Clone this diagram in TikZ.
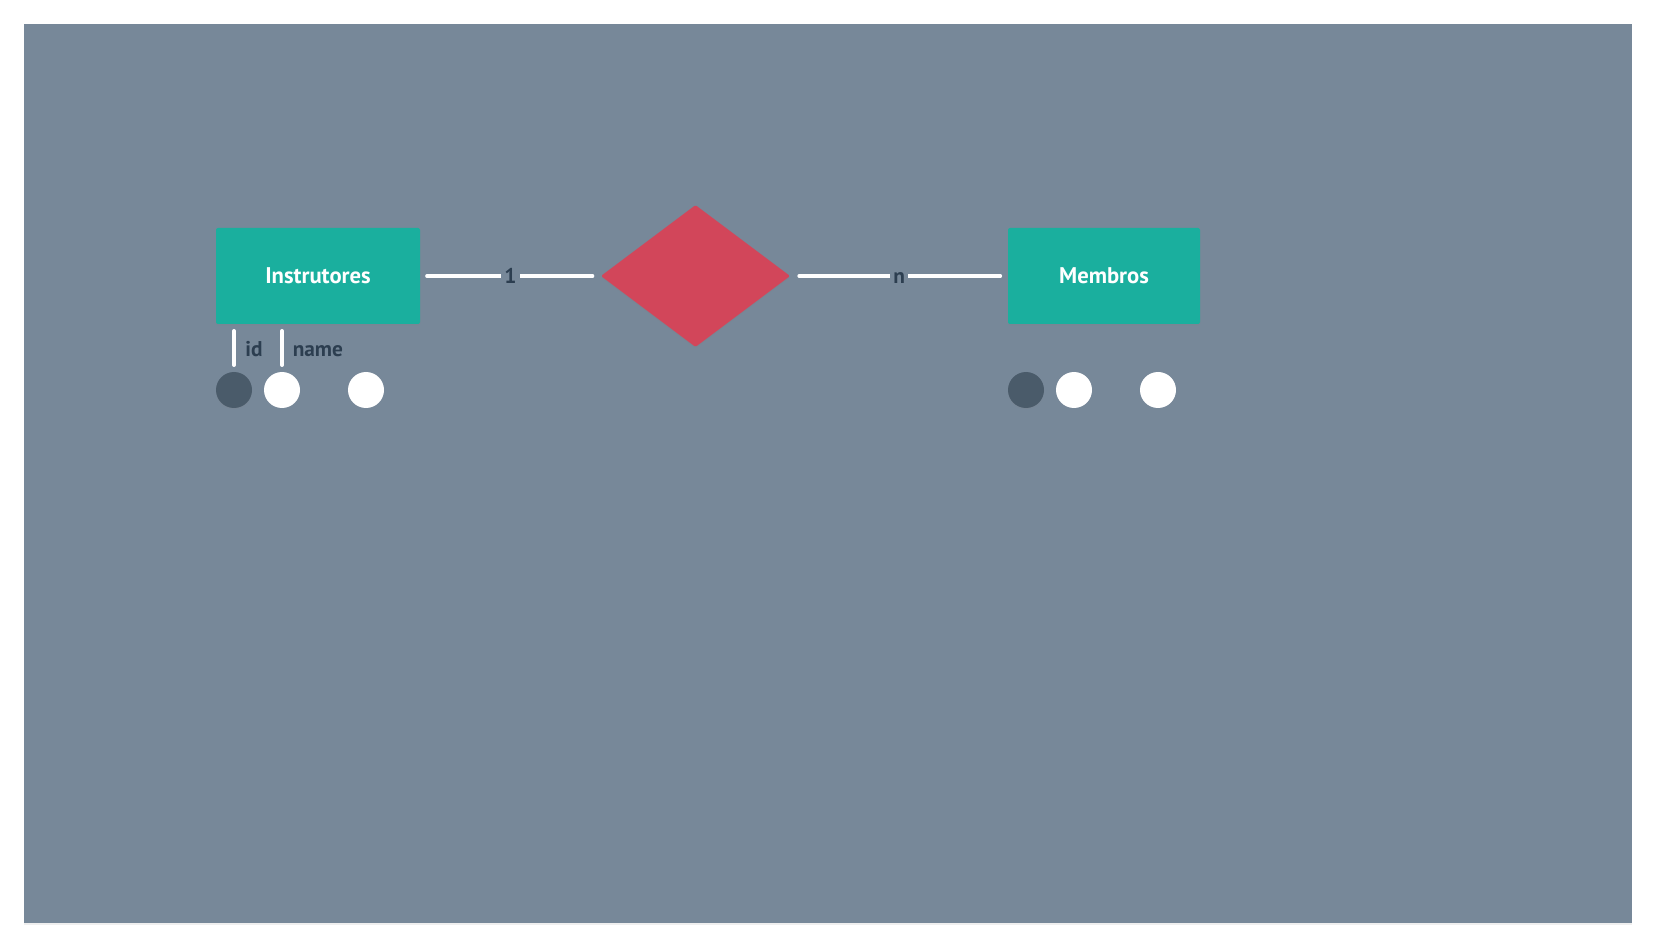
\documentclass[tikz,border=0pt]{standalone}
\usepackage{fontspec}
\setmainfont{PT Sans}
\newfontfamily\dinfont{PT Sans}
\usetikzlibrary{shapes.geometric,shadows}
\definecolor{bggray}{HTML}{778899}
\definecolor{teal}{HTML}{1AAF9E}
\definecolor{rosered}{HTML}{D2465A}
\definecolor{darkdot}{HTML}{4A5B6A}
\definecolor{inktext}{HTML}{2C3E50}
\tikzset{
  entity/.style={draw=none, fill=teal, rounded corners=1.5pt, minimum height=72pt, inner sep=0pt,
    font=\dinfont\bfseries\fontsize{17}{20}\selectfont, text=white,
    drop shadow={opacity=0.18, shadow xshift=0pt, shadow yshift=-1pt}},
  relation/.style={diamond, draw=none, fill=rosered, minimum width=142pt, minimum height=106.5pt, inner sep=0pt, rounded corners=1pt,
    drop shadow={opacity=0.18, shadow xshift=0pt, shadow yshift=-1pt}},
  link/.style={draw=white, line width=2.6pt, line cap=round},
  card/.style={fill=bggray, inner sep=2.5pt, text=inktext, font=\dinfont\bfseries\fontsize{16}{18}\selectfont},
  attrbar/.style={draw=white, line width=3pt, line cap=round},
  attrlabel/.style={anchor=base west, inner sep=0pt, text=inktext, font=\dinfont\bfseries\fontsize{16}{18}\selectfont},
  keydot/.style={circle, fill=darkdot, minimum size=27pt, inner sep=0pt, draw=none,
    drop shadow={opacity=0.15, shadow xshift=0pt, shadow yshift=-0.8pt}},
  plaindot/.style={circle, fill=white, minimum size=27pt, inner sep=0pt, draw=none},
}
\begin{document}
\begin{tikzpicture}[x=0.75pt, y=-0.75pt]
\useasboundingbox (0,0) rectangle (1656,948);
\fill[white] (0,0) rectangle (1656,948);
\node[draw=none, fill=bggray, minimum width=1206pt, minimum height=674.25pt, inner sep=0pt, anchor=north west,
  drop shadow={opacity=0.12, shadow xshift=0pt, shadow yshift=-1.5pt}] (canvas) at (24,24) {};

\node[entity, minimum width=153pt] (instr) at (318,276) {Instrutores};
\node[relation] (rel) at (695.5,276) {};
\node[entity, minimum width=144pt] (memb) at (1104,276) {Membros};

\draw[link, shorten <=5pt, shorten >=6pt] (instr.east) -- node[card] {1} (rel.west);
\draw[link, shorten <=6.5pt, shorten >=5.5pt] (rel.east) -- node[card, yshift=-1.5pt] {n} (memb.west);

\coordinate (b1t) at (234,331);
\coordinate (b1b) at (234,365);
\coordinate (b2t) at (282,331);
\coordinate (b2b) at (282,365);
\draw[attrbar] (b1t) -- (b1b);
\draw[attrbar] (b2t) -- (b2b);
\node[attrlabel] (lid) at (245,357) {id};
\node[attrlabel] (lname) at (292.5,357) {name};

\node[keydot] (ik) at (234,390) {};
\node[plaindot] (ia) at (282,390) {};
\node[plaindot] (ib) at (366,390) {};

\node[keydot] (mk) at (1026,390) {};
\node[plaindot] (ma) at (1074,390) {};
\node[plaindot] (mb) at (1158,390) {};
\end{tikzpicture}
\end{document}
